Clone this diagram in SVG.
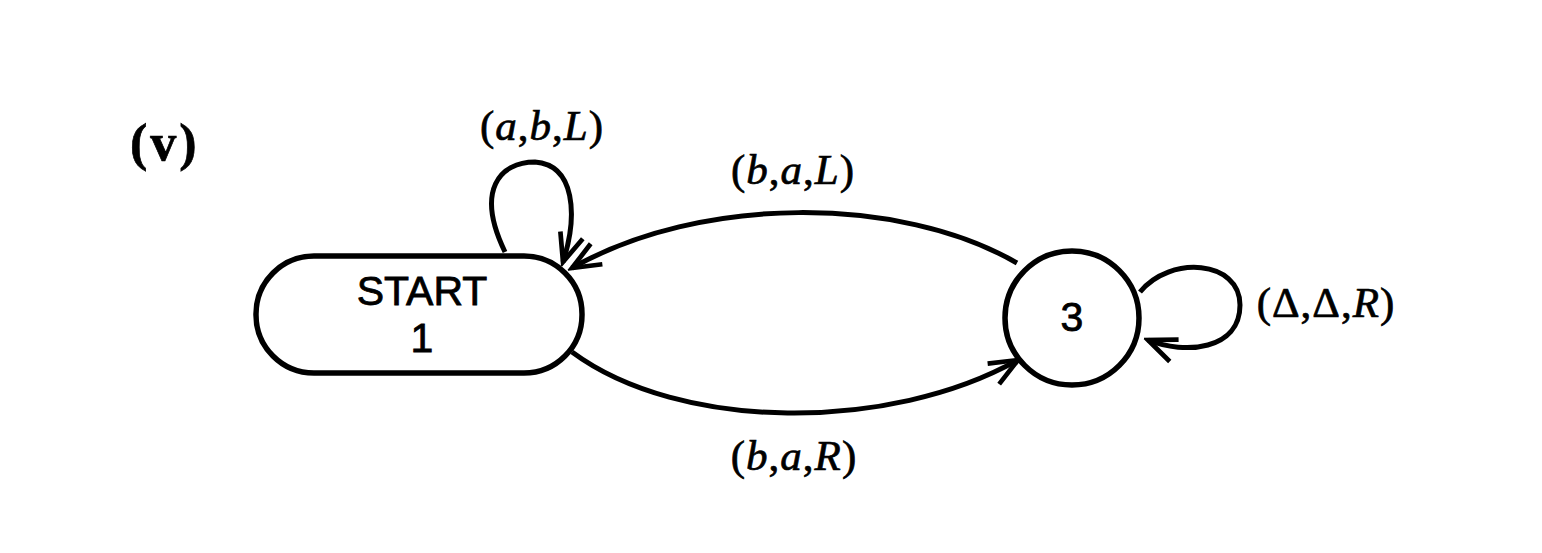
<svg xmlns="http://www.w3.org/2000/svg" width="1542" height="553" viewBox="0 0 1542 553">
<style>
.st{fill:#fff;stroke:#000;stroke-width:5.5}
.ed{fill:none;stroke:#000;stroke-width:5}
.lab{font-family:"Liberation Serif","DejaVu Serif",serif;font-size:43px;fill:#000;stroke:#000;stroke-width:0.7;letter-spacing:1px}
.nt{font-family:"Liberation Sans","DejaVu Sans",sans-serif;font-size:41px;fill:#000;stroke:#000;stroke-width:0.8;text-anchor:middle}
</style>
<defs>
<marker id="arr" markerUnits="userSpaceOnUse" markerWidth="40" markerHeight="40" viewBox="-30 -15 34 30" refX="0" refY="0" orient="auto">
<path d="M-24,-10 L0,0 L-24,10" fill="none" stroke="#000" stroke-width="4"/>
</marker>
</defs>
<rect width="1542" height="553" fill="#fff"/>
<text x="130" y="160" class="lab" style="font-size:52px;font-weight:bold;letter-spacing:3px">(v)</text>
<g id="connectors">
<path class="ed" d="M1017,263 C900,195 700,195 572,268" marker-end="url(#arr)"/>
<path class="ed" d="M572,352 C680,432 890,432 1018,360" marker-end="url(#arr)"/>
<path class="ed" d="M505,252 C475,190 500,162 535,162 C575,165 578,215 563,262" marker-end="url(#arr)"/>
<path class="ed" d="M1140,292 C1170,255 1240,260 1240,305 C1240,350 1185,355 1148,340" marker-end="url(#arr)"/>
</g>
<g id="node-start">
<rect class="st" x="256" y="256" width="326" height="117" rx="58" ry="58"/>
<text x="422" y="305" class="nt">START</text>
<text x="422" y="352" class="nt">1</text>
</g>
<g id="node-3">
<circle class="st" cx="1072" cy="318" r="67"/>
<text x="1072" y="331" class="nt">3</text>
</g>
<g id="labels">
<text x="542" y="140" class="lab" text-anchor="middle">(<tspan font-style="italic">a</tspan>,<tspan font-style="italic">b</tspan>,<tspan font-style="italic">L</tspan>)</text>
<text x="793" y="184" class="lab" text-anchor="middle">(<tspan font-style="italic">b</tspan>,<tspan font-style="italic">a</tspan>,<tspan font-style="italic">L</tspan>)</text>
<text x="794" y="470" class="lab" text-anchor="middle">(<tspan font-style="italic">b</tspan>,<tspan font-style="italic">a</tspan>,<tspan font-style="italic">R</tspan>)</text>
<text x="1326" y="317" class="lab" text-anchor="middle">(Δ,Δ,<tspan font-style="italic">R</tspan>)</text>
</g>
</svg>
